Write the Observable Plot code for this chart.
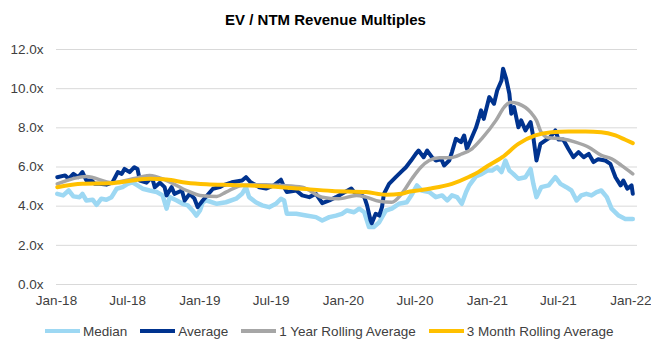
<!DOCTYPE html>
<html>
<head>
<meta charset="utf-8">
<script src="https://cdn.jsdelivr.net/npm/d3@7"></script>
<script src="https://cdn.jsdelivr.net/npm/@observablehq/plot@0.6"></script>
<style>
  html, body { margin: 0; padding: 0; background: #fff; }
  body { width: 651px; height: 346px; overflow: hidden; font-family: "Liberation Sans", Arial, sans-serif; }
  #title { height: 40px; line-height: 40px; text-align: center; font-weight: bold; font-size: 15px; color: #000; }
  #chart svg { overflow: visible; }
  #legend { display: flex; align-items: center; height: 42px; margin-left: 45px; font-size: 13.5px; color: #404040; }
  .item { display: flex; align-items: center; margin-right: 13px; }
  .sw { width: 35px; height: 4px; margin-right: 3px; }
</style>
</head>
<body>
<div id="title">EV / NTM Revenue Multiples</div>
<div id="chart"></div>
<div id="legend"></div>
<script>
// ---- data (date, multiple) ----
const median = [
["2018-01-03",4.63],["2018-01-18",4.55],["2018-02-01",4.80],["2018-02-13",4.50],["2018-03-01",4.46],
["2018-03-08",4.63],["2018-03-18",4.29],["2018-04-03",4.33],["2018-04-13",4.07],["2018-04-25",4.38],
["2018-05-08",4.33],["2018-05-21",4.46],["2018-06-03",4.89],["2018-06-18",4.97],["2018-07-01",5.14],
["2018-07-13",5.22],["2018-07-26",5.06],["2018-08-08",4.89],["2018-08-26",4.80],["2018-09-13",4.72],
["2018-09-28",4.55],["2018-10-08",3.87],["2018-10-16",4.46],["2018-11-03",4.29],["2018-11-18",4.12],
["2018-12-01",4.04],["2018-12-13",3.78],["2018-12-23",3.52],["2019-01-01",3.78],["2019-01-08",4.20],
["2019-01-18",4.29],["2019-02-13",4.12],["2019-03-08",4.20],["2019-04-03",4.38],["2019-04-18",4.63],
["2019-04-28",4.97],["2019-05-06",4.46],["2019-05-23",4.20],["2019-06-08",4.04],["2019-06-26",3.95],
["2019-07-13",4.12],["2019-07-26",4.38],["2019-08-03",4.29],["2019-08-10",3.61],["2019-09-03",3.61],
["2019-09-28",3.52],["2019-10-23",3.44],["2019-11-08",3.27],["2019-11-26",3.44],["2019-12-13",3.52],
["2019-12-28",3.61],["2020-01-10",3.78],["2020-01-28",3.69],["2020-02-10",3.87],["2020-02-23",3.69],
["2020-03-06",2.93],["2020-03-18",2.93],["2020-04-01",3.18],["2020-04-18",3.78],["2020-05-03",3.87],
["2020-05-21",4.12],["2020-06-10",4.20],["2020-06-23",4.60],["2020-07-06",5.06],["2020-07-18",4.80],
["2020-08-06",4.72],["2020-08-23",4.46],["2020-09-08",4.55],["2020-09-21",4.29],["2020-10-03",4.55],
["2020-10-16",4.46],["2020-10-28",4.12],["2020-11-08",4.72],["2020-11-16",5.06],["2020-12-03",5.52],
["2020-12-18",5.65],["2021-01-01",5.82],["2021-01-13",5.82],["2021-01-26",5.99],["2021-02-06",5.74],
["2021-02-16",6.33],["2021-02-26",5.82],["2021-03-08",5.65],["2021-03-21",5.40],["2021-04-08",5.48],
["2021-04-21",5.90],["2021-04-28",5.14],["2021-05-06",4.46],["2021-05-18",4.97],["2021-06-06",5.06],
["2021-06-23",5.48],["2021-07-06",5.14],["2021-07-21",4.97],["2021-08-03",4.80],["2021-08-16",4.29],
["2021-08-28",4.55],["2021-09-10",4.63],["2021-09-23",4.55],["2021-10-06",4.72],["2021-10-18",4.80],
["2021-11-01",4.46],["2021-11-13",3.87],["2021-12-01",3.52],["2021-12-18",3.35],["2022-01-06",3.35]
];
const average = [
["2018-01-03",5.48],["2018-01-23",5.57],["2018-02-01",5.40],["2018-02-13",5.65],["2018-02-25",5.48],
["2018-03-08",5.74],["2018-03-18",5.31],["2018-04-01",5.31],["2018-04-08",5.14],["2018-04-20",5.14],
["2018-05-08",5.10],["2018-05-23",5.20],["2018-06-06",5.74],["2018-06-16",5.65],["2018-06-23",5.90],
["2018-07-06",5.74],["2018-07-18",5.99],["2018-07-26",5.90],["2018-08-01",5.31],["2018-08-18",5.20],
["2018-09-01",5.48],["2018-09-08",4.97],["2018-09-21",5.20],["2018-10-03",4.97],["2018-10-08",4.55],
["2018-10-21",4.97],["2018-10-28",4.63],["2018-11-16",4.80],["2018-11-23",4.29],["2018-12-06",4.63],
["2018-12-18",4.38],["2018-12-26",3.95],["2019-01-08",4.29],["2019-02-03",4.89],["2019-02-20",4.97],
["2019-02-28",5.06],["2019-03-23",5.22],["2019-04-18",5.31],["2019-04-28",5.48],["2019-05-10",5.22],
["2019-06-01",4.97],["2019-06-18",4.90],["2019-07-08",5.06],["2019-07-26",5.35],["2019-08-03",4.97],
["2019-08-10",4.72],["2019-09-03",4.80],["2019-09-18",4.55],["2019-10-06",4.46],["2019-10-23",4.63],
["2019-11-08",4.15],["2019-11-26",4.29],["2019-12-13",4.46],["2019-12-28",4.63],["2020-01-21",4.90],
["2020-01-28",4.72],["2020-02-10",4.63],["2020-02-23",4.46],["2020-03-01",4.04],["2020-03-10",3.27],
["2020-03-13",3.13],["2020-03-23",3.61],["2020-04-01",3.52],["2020-04-08",3.95],["2020-04-13",4.63],
["2020-04-26",5.14],["2020-05-13",5.48],["2020-05-26",5.74],["2020-06-08",5.99],["2020-06-21",6.33],
["2020-07-03",6.67],["2020-07-10",6.84],["2020-07-23",6.50],["2020-08-01",6.84],["2020-08-13",6.50],
["2020-08-23",6.33],["2020-09-06",6.40],["2020-09-13",6.08],["2020-09-26",6.33],["2020-10-03",6.76],
["2020-10-13",7.44],["2020-10-26",7.27],["2020-11-03",7.61],["2020-11-10",6.93],["2020-11-21",7.44],
["2020-12-03",8.00],["2020-12-10",8.46],["2020-12-16",8.89],["2020-12-23",8.46],["2021-01-06",9.57],
["2021-01-18",9.23],["2021-01-26",9.91],["2021-02-06",10.42],["2021-02-10",11.02],["2021-02-18",10.50],
["2021-02-26",9.74],["2021-03-03",8.72],["2021-03-10",9.06],["2021-03-21",8.03],["2021-03-28",8.38],
["2021-04-08",7.87],["2021-04-21",8.29],["2021-04-28",7.52],["2021-05-06",6.33],["2021-05-16",7.18],
["2021-05-28",7.35],["2021-06-10",7.52],["2021-06-23",7.87],["2021-07-01",7.40],["2021-07-13",7.40],
["2021-07-26",6.93],["2021-08-08",6.50],["2021-08-21",6.76],["2021-09-03",6.50],["2021-09-16",6.67],
["2021-09-28",6.25],["2021-10-10",6.40],["2021-10-28",6.33],["2021-11-10",6.16],["2021-11-23",5.48],
["2021-12-06",5.06],["2021-12-13",5.31],["2021-12-23",4.89],["2022-01-03",5.06],["2022-01-06",4.63]
];
const oneYearRolling = [
["2018-01-03",5.14],["2018-03-18",5.52],["2018-05-23",5.20],["2018-08-01",5.48],["2018-08-26",5.57],
["2018-10-08",5.31],["2018-11-28",4.80],["2019-01-01",4.55],["2019-02-13",4.50],["2019-03-08",4.72],
["2019-04-18",5.06],["2019-06-18",5.10],["2019-07-28",5.06],["2019-09-18",4.97],["2019-11-08",4.46],
["2019-12-20",4.38],["2020-02-03",4.55],["2020-02-28",4.46],["2020-04-01",4.25],["2020-05-03",4.20],
["2020-05-28",4.63],["2020-06-23",5.40],["2020-07-16",5.99],["2020-08-06",6.33],["2020-09-01",6.47],
["2020-09-26",6.47],["2020-10-28",6.67],["2020-11-23",6.93],["2020-12-18",7.45],["2021-01-23",8.38],
["2021-02-13",9.06],["2021-03-01",9.31],["2021-03-21",9.23],["2021-04-21",8.80],["2021-05-06",8.38],
["2021-05-18",7.78],["2021-06-06",7.49],["2021-07-08",7.44],["2021-08-13",7.27],["2021-09-16",7.01],
["2021-10-18",6.59],["2021-11-13",6.42],["2021-12-08",6.08],["2022-01-06",5.65]
];
const threeMonthRolling = [
["2018-01-03",4.97],["2018-03-08",5.14],["2018-05-16",5.17],["2018-07-13",5.31],["2018-08-26",5.40],
["2018-10-08",5.36],["2018-11-28",5.20],["2019-01-18",5.12],["2019-03-23",5.08],["2019-06-18",5.02],
["2019-09-10",4.90],["2019-12-03",4.78],["2020-02-28",4.72],["2020-04-18",4.58],["2020-05-28",4.63],
["2020-06-08",4.70],["2020-07-16",4.82],["2020-08-06",4.89],["2020-10-03",5.14],["2020-11-16",5.50],
["2020-12-10",5.75],["2020-12-28",5.99],["2021-02-08",6.50],["2021-03-21",7.18],["2021-05-03",7.61],
["2021-06-13",7.78],["2021-07-26",7.81],["2021-09-08",7.81],["2021-10-18",7.78],["2021-11-23",7.61],
["2021-12-18",7.39],["2022-01-06",7.22]
];
const seriesNames = ["Median", "Average", "1 Year Rolling Average", "3 Month Rolling Average"];
const seriesColors = ["#9dd8f3", "#00338f", "#a6a6a6", "#ffc000"];
const yTicks = [0, 2, 4, 6, 8, 10, 12];
const xTickDates = ["2018-01-01","2018-07-01","2019-01-01","2019-07-01","2020-01-01","2020-07-01","2021-01-01","2021-07-01","2022-01-01"];
const xDomain = ["2018-01-01", "2022-01-18"];

// ---- build ----
const toDate = (d) => new Date(d + "T00:00:00Z");
const toRows = (arr) => arr.map(([d, v]) => ({date: toDate(d), value: v}));
const sets = [median, average, oneYearRolling, threeMonthRolling].map(toRows);
const fmtMonth = d3.utcFormat("%b-%y");

const chart = Plot.plot({
  width: 651,
  height: 270,
  marginLeft: 56,
  marginRight: 14,
  marginTop: 9,
  marginBottom: 26,
  style: {fontFamily: "'Liberation Sans', Arial, sans-serif", fontSize: "13.5px", color: "#404040", background: "#fff", overflow: "visible"},
  x: {type: "utc", domain: xDomain.map(toDate), ticks: xTickDates.map(toDate), tickFormat: fmtMonth, tickSize: 0, tickPadding: 11, label: null},
  y: {domain: [0, 12], ticks: yTicks, tickFormat: d => d.toFixed(1) + "x", tickSize: 0, tickPadding: 13, label: null},
  marks: [
    Plot.ruleY(yTicks, {stroke: "#d9d9d9", strokeWidth: 1}),
    Plot.line(sets[0], {x: "date", y: "value", stroke: seriesColors[0], strokeWidth: 4.5, strokeLinejoin: "round", strokeLinecap: "round"}),
    Plot.line(sets[1], {x: "date", y: "value", stroke: seriesColors[1], strokeWidth: 4, strokeLinejoin: "round", strokeLinecap: "round"}),
    Plot.line(sets[2], {x: "date", y: "value", stroke: seriesColors[2], strokeWidth: 3.5, curve: "monotone-x", strokeLinecap: "round"}),
    Plot.line(sets[3], {x: "date", y: "value", stroke: seriesColors[3], strokeWidth: 4, curve: "monotone-x", strokeLinecap: "round"})
  ]
});
document.getElementById("chart").appendChild(chart);

const legend = document.getElementById("legend");
seriesNames.forEach((name, i) => {
  const item = document.createElement("div");
  item.className = "item";
  const sw = document.createElement("span");
  sw.className = "sw";
  sw.style.background = seriesColors[i];
  const label = document.createElement("span");
  label.textContent = name;
  item.appendChild(sw);
  item.appendChild(label);
  legend.appendChild(item);
});
</script>
</body>
</html>
